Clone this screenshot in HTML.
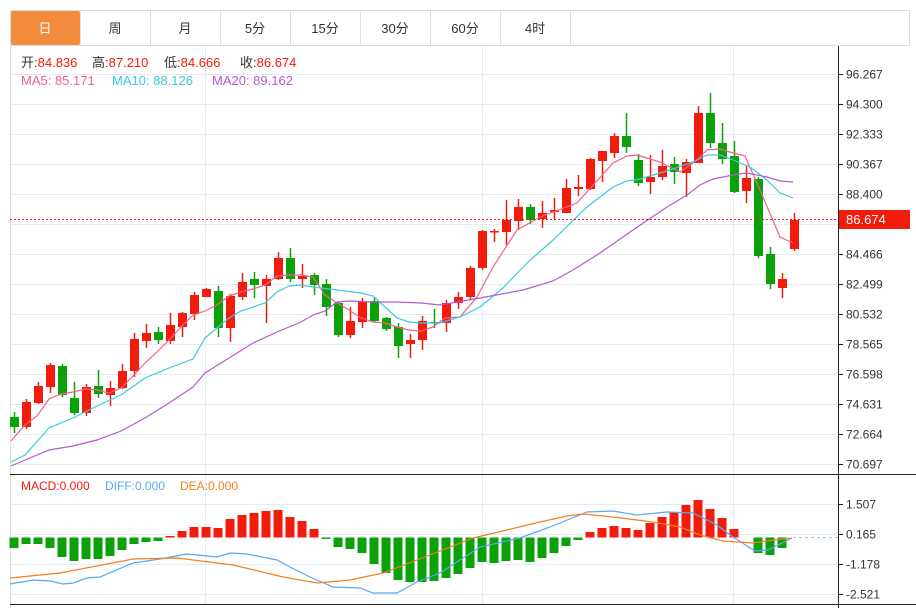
<!DOCTYPE html>
<html><head><meta charset="utf-8"><style>
body{margin:0;background:#fff;width:916px;height:608px;overflow:hidden;font-family:"Liberation Sans","Noto Sans CJK SC",sans-serif}
svg{position:absolute;left:0;top:0}
</style></head><body>
<svg id="s" width="916" height="608" xmlns="http://www.w3.org/2000/svg" font-family="Liberation Sans, Noto Sans CJK SC, sans-serif">
<rect x="10.5" y="10.5" width="899" height="35" fill="#fff" stroke="#ddd"/>
<rect x="11" y="11" width="69" height="34" fill="#f28c3c" rx="2"/>
<g stroke="#ddd"><line x1="80.5" y1="10" x2="80.5" y2="45"/><line x1="150.5" y1="10" x2="150.5" y2="45"/><line x1="220.5" y1="10" x2="220.5" y2="45"/><line x1="290.5" y1="10" x2="290.5" y2="45"/><line x1="360.5" y1="10" x2="360.5" y2="45"/><line x1="430.5" y1="10" x2="430.5" y2="45"/><line x1="500.5" y1="10" x2="500.5" y2="45"/><line x1="570.5" y1="10" x2="570.5" y2="45"/></g>
<g font-size="13" text-anchor="middle" fill="#333"><text x="45" y="33" fill="#fff">日</text><text x="115" y="33">周</text><text x="185" y="33">月</text><text x="255" y="33">5分</text><text x="325" y="33">15分</text><text x="395" y="33">30分</text><text x="465" y="33">60分</text><text x="535" y="33">4时</text></g>
<line x1="10.5" y1="45" x2="10.5" y2="608" stroke="#ddd"/>
<g id="grid" stroke="#e3ecf3"></g>
<g font-size="13"><text x="21" y="67" fill="#333">开:<tspan fill="#f21b0c">84.836</tspan></text>
<text x="92" y="67" fill="#333">高:<tspan fill="#f21b0c">87.210</tspan></text>
<text x="164" y="67" fill="#333">低:<tspan fill="#f21b0c">84.666</tspan></text>
<text x="240" y="67" fill="#333">收:<tspan fill="#f21b0c">86.674</tspan></text>
<text x="21" y="85" fill="#f2628c">MA5: 85.171</text><text x="112" y="85" fill="#3ccbe0">MA10: 88.126</text><text x="212" y="85" fill="#b55ad0">MA20: 89.162</text>
<text x="21" y="490" font-size="12" fill="#f21b0c">MACD:0.000</text><text x="105" y="490" font-size="12" fill="#5aa8f0">DIFF:0.000</text><text x="180" y="490" font-size="12" fill="#f57f1f">DEA:0.000</text></g>
<g id="c"></g>
<line x1="10" y1="219.5" x2="838" y2="219.5" stroke="#f21b0c" stroke-dasharray="2,2"/>
<line x1="793" y1="537.5" x2="838" y2="537.5" stroke="#9cc8e8" stroke-dasharray="3,3"/>
<line x1="10" y1="474.5" x2="916" y2="474.5" stroke="#222"/>
<line x1="10" y1="604.5" x2="916" y2="604.5" stroke="#222"/>
<line x1="838.5" y1="46" x2="838.5" y2="608" stroke="#222"/>
<g id="ax" font-size="12" fill="#333"></g>
<rect x="839" y="210" width="71" height="19" fill="#f21b0c"/>
<text x="846" y="224" font-size="13" fill="#fff">86.674</text>
</svg>
<script>
var NS="http://www.w3.org/2000/svg",c=document.getElementById('c'),g=document.getElementById('grid'),ax=document.getElementById('ax');
function el(t,a,p){var e=document.createElementNS(NS,t);for(var k in a)e.setAttribute(k,a[k]);(p||c).appendChild(e);return e;}
var labs=["96.267","94.300","92.333","90.367","88.400","86.433","84.466","82.499","80.532","78.565","76.598","74.631","72.664","70.697"];
labs.forEach(function(l,i){var y=Math.round(74+i*30)+.5;el('line',{x1:10,y1:y,x2:838,y2:y},g);el('line',{x1:838,y1:y,x2:843,y2:y,stroke:'#222'},ax);if(i!=5)el('text',{x:846,y:y+4},ax).textContent=l;});
[["1.507",504],["0.165",534],["-1.178",564],["-2.521",594]].forEach(function(a){var y=a[1]+.5;el('line',{x1:10,y1:y,x2:838,y2:y},g);el('line',{x1:838,y1:y,x2:843,y2:y,stroke:'#222'},ax);el('text',{x:846,y:y+4},ax).textContent=a[0];});
[205,482,733].forEach(function(x){el('line',{x1:x+.5,y1:46,x2:x+.5,y2:604},g);});
var K=[[417,427,412,433,0],[402,427,399,429,1],[386,403,382,404,1],[365,387,363,393,1],[366,395,364,397,0],[398,413,382,415,0],[387,413,384,416,1],[386,394,370,398,0],[388,395,381,406,1],[371,388,364,389,1],[339,371,333,377,1],[333,341,324,348,1],[332,340,327,344,0],[325,341,313,344,1],[313,327,312,337,1],[295,314,292,320,1],[289,297,288,297,1],[291,328,286,337,0],[296,328,294,342,1],[282,297,273,300,1],[279,285,272,298,0],[279,286,275,323,1],[258,279,252,280,1],[258,279,248,282,0],[276,279,264,288,1],[275,285,273,295,0],[284,307,279,316,0],[303,335,302,337,0],[321,335,307,338,1],[302,322,298,328,1],[301,321,297,323,0],[318,329,317,331,0],[327,346,323,358,0],[340,344,334,358,1],[321,340,316,350,1],[322,323,309,328,0],[303,323,300,332,1],[297,303,292,309,1],[268,297,266,300,1],[231,268,230,270,1],[231,232,229,242,1],[220,232,200,245,1],[207,221,199,230,1],[207,220,204,224,0],[213,219,201,228,1],[210,212,198,219,1],[188,213,179,213,1],[187,189,175,196,1],[159,189,158,190,1],[151,161,151,182,1],[136,153,133,158,1],[136,147,113,153,0],[160,183,154,186,0],[177,182,155,194,1],[166,177,150,180,1],[164,172,157,184,0],[162,173,159,197,1],[113,163,106,163,1],[113,143,93,148,0],[143,159,123,164,0],[156,192,141,193,0],[178,191,166,203,1],[179,256,177,258,0],[254,284,247,289,0],[279,288,273,298,1],[220,249,213,251,1]];
var R='#f21b0c',G='#0aa10a';
K.forEach(function(k,i){var x=14+12*i,col=k[4]?R:G;el('line',{x1:x+.5,y1:k[2],x2:x+.5,y2:k[3],stroke:col,'stroke-width':1.5});el('rect',{x:x-4,y:k[0],width:9,height:Math.max(1.5,k[1]-k[0]),fill:col});});
var H=[548,544,544,548,557,561,559,559,556,550,544,542,541,536,531,527,527,528,519,515,513,511,510,517,521,529,539,547,549,553,564,573,580,582,582,581,578,574,568,562,563,561,560,562,558,553,546,540,532,528,526,528,530,523,517,512,505,500,509,518,529,537.5,553,555,548,537.5];
H.forEach(function(h,i){var x=14+12*i,z=537.5;if(Math.abs(h-z)<1)return;el('rect',{x:x-4.5,y:Math.min(h,z),width:9,height:Math.abs(h-z),fill:h<z?R:G});});
function pl(p,col){el('polyline',{points:p,fill:'none',stroke:col,'stroke-width':1.2});}
pl("11,441 25,425 37,416 49,399 61,394 73,392 85,389 97,390 109,393 121,388 133,376 145,363 157,352 169,340 181,327 193,315 205,311 217,305 229,296 241,292 253,289 265,285 277,276 289,275 301,275 313,277 325,295 337,303 349,310 361,318 373,322 385,323 397,327 409,330 421,331 433,327 445,318 460,317 477,297 493,267 517,230 540,217 577,203 613,163 627,156 637,155 660,162 680,172 697,160 707,150 720,149 733,153 745,156 760,190 780,237 793,243","#f2628c");
pl("11,462 25,455 49,428 73,418 97,406 121,395 145,378 169,368 193,359 205,338 229,318 241,311 265,303 277,292 289,286 301,285 313,287 337,290 361,293 373,296 385,307 397,318 409,322 421,323 440,323 460,317 480,307 503,288 527,263 553,240 587,207 613,187 627,181 640,179 673,169 693,162 707,155 720,155 733,160 750,167 767,180 780,193 793,198","#3ccbe0");
pl("11,466 49,450 73,446 97,440 121,431 145,418 169,403 193,387 205,373 229,358 253,343 277,332 301,322 313,315 325,311 337,302 349,301 373,302 397,302 421,303 440,305 480,298 523,290 553,281 573,270 600,253 633,230 667,207 687,195 700,185 713,179 733,175 747,173 767,177 780,181 793,182","#b55ad0");
pl("10,584 33,580 50,581 63,584 73,583 87,578 100,577 133,563 160,559 187,554 217,557 230,553 247,554 277,560 290,567 310,577 333,587 360,588 373,593 397,593 417,582 440,573 480,547 520,538 550,527 587,512 613,511 637,515 667,512 693,513 717,525 733,537 755,551 768,550 792,538","#5aa8f0");
pl("10,578 60,573 133,559 177,558 233,565 283,577 317,583 350,580 383,573 417,560 440,551 473,538 507,530 540,522 567,516 583,514 613,517 653,522 680,527 700,535 723,541 753,543 773,540 792,538","#f57f1f");
</script>
</body></html>
